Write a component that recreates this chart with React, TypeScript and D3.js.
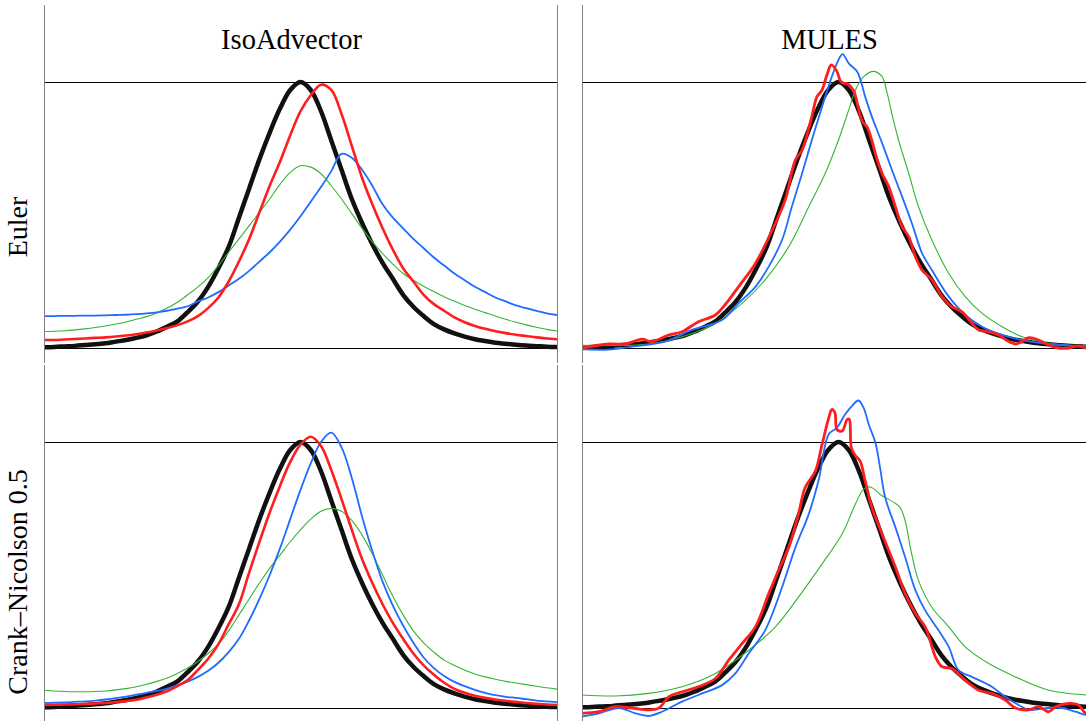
import React, { useEffect } from 'react';
import * as d3 from 'd3';

// ---------- labels ----------
const COLUMN_TITLES = ['IsoAdvector', 'MULES'];
const ROW_TITLES = ['Euler', 'Crank–Nicolson 0.5'];

// ---------- shared sample positions (fraction of the domain) ----------
const GRID = d3.range(51).map((i) => i * 0.02);

// exact solution (black), sampled on GRID
const BLACK = [0.003, 0.004, 0.006, 0.008, 0.011, 0.014, 0.018, 0.024, 0.03, 0.038, 0.048, 0.062, 0.08, 0.1, 0.135, 0.175, 0.23, 0.3, 0.38, 0.49, 0.6, 0.71, 0.81, 0.9, 0.97, 1.0, 0.97, 0.89, 0.78, 0.67, 0.56, 0.47, 0.39, 0.32, 0.26, 0.2, 0.155, 0.12, 0.09, 0.07, 0.055, 0.043, 0.033, 0.026, 0.02, 0.016, 0.012, 0.009, 0.007, 0.005, 0.004];

// IsoAdvector / Euler (on GRID)
const ISO_EU_RED = [0.03, 0.03, 0.032, 0.034, 0.036, 0.038, 0.04, 0.043, 0.047, 0.052, 0.058, 0.066, 0.075, 0.086, 0.1, 0.12, 0.15, 0.19, 0.25, 0.325, 0.41, 0.51, 0.61, 0.7, 0.8, 0.89, 0.95, 0.99, 0.97, 0.88, 0.76, 0.64, 0.54, 0.45, 0.37, 0.3, 0.25, 0.2, 0.165, 0.14, 0.115, 0.097, 0.083, 0.072, 0.063, 0.056, 0.05, 0.045, 0.04, 0.036, 0.033];
const ISO_EU_BLUE = [0.12, 0.12, 0.121, 0.121, 0.122, 0.122, 0.123, 0.124, 0.125, 0.127, 0.13, 0.134, 0.14, 0.148, 0.157, 0.175, 0.19, 0.21, 0.235, 0.26, 0.29, 0.325, 0.36, 0.4, 0.445, 0.495, 0.55, 0.605, 0.665, 0.73, 0.715, 0.67, 0.61, 0.54, 0.49, 0.45, 0.41, 0.375, 0.34, 0.31, 0.28, 0.255, 0.23, 0.21, 0.19, 0.175, 0.16, 0.15, 0.14, 0.13, 0.124];
const ISO_EU_GREEN = [0.062, 0.063, 0.065, 0.068, 0.072, 0.077, 0.083, 0.09, 0.098, 0.108, 0.118, 0.132, 0.15, 0.172, 0.2, 0.23, 0.265, 0.31, 0.36, 0.41, 0.46, 0.51, 0.56, 0.615, 0.66, 0.685, 0.68, 0.655, 0.61, 0.56, 0.505, 0.45, 0.4, 0.355, 0.315, 0.28, 0.255, 0.232, 0.212, 0.193, 0.176, 0.16, 0.146, 0.133, 0.12, 0.108, 0.097, 0.087, 0.078, 0.07, 0.064];

// IsoAdvector / Crank–Nicolson (on GRID)
const ISO_CN_RED = [0.012, 0.012, 0.013, 0.014, 0.015, 0.017, 0.019, 0.022, 0.026, 0.031, 0.04, 0.05, 0.063, 0.082, 0.105, 0.143, 0.185, 0.24, 0.315, 0.39, 0.51, 0.625, 0.735, 0.835, 0.925, 0.99, 1.02, 0.985, 0.895, 0.785, 0.67, 0.56, 0.47, 0.39, 0.32, 0.26, 0.205, 0.16, 0.125, 0.095, 0.072, 0.057, 0.046, 0.038, 0.032, 0.027, 0.023, 0.019, 0.016, 0.013, 0.011];
const ISO_CN_BLUE = [0.019, 0.02, 0.021, 0.023, 0.025, 0.028, 0.032, 0.037, 0.043, 0.05, 0.057, 0.064, 0.073, 0.085, 0.099, 0.117, 0.14, 0.17, 0.21, 0.26, 0.33, 0.41, 0.5, 0.6, 0.71, 0.82, 0.92, 1.0, 1.035, 0.98, 0.865, 0.72, 0.59, 0.475, 0.385, 0.31, 0.245, 0.19, 0.15, 0.12, 0.098, 0.082, 0.068, 0.057, 0.048, 0.042, 0.038, 0.033, 0.028, 0.025, 0.022];
const ISO_CN_GREEN = [0.067, 0.064, 0.062, 0.061, 0.061, 0.062, 0.064, 0.068, 0.073, 0.08, 0.089, 0.1, 0.113, 0.13, 0.15, 0.175, 0.205, 0.24, 0.29, 0.35, 0.41, 0.47, 0.525, 0.575, 0.625, 0.67, 0.71, 0.74, 0.75, 0.74, 0.705, 0.65, 0.58, 0.5, 0.42, 0.35, 0.29, 0.245, 0.21, 0.18, 0.16, 0.142, 0.128, 0.117, 0.108, 0.1, 0.094, 0.088, 0.082, 0.076, 0.071];

// MULES / Euler (own sample positions)
const MU_EU_RED_X = [0, 0.052, 0.084, 0.117, 0.136, 0.169, 0.195, 0.227, 0.26, 0.286, 0.305, 0.338, 0.37, 0.396, 0.416, 0.429, 0.448, 0.458, 0.468, 0.478, 0.486, 0.497, 0.505, 0.52, 0.53, 0.539, 0.547, 0.556, 0.565, 0.575, 0.585, 0.598, 0.611, 0.624, 0.637, 0.65, 0.663, 0.682, 0.702, 0.721, 0.741, 0.76, 0.773, 0.789, 0.812, 0.832, 0.845, 0.858, 0.871, 0.89, 0.91, 0.929, 0.949, 0.968, 0.982, 1.0];
const MU_EU_RED_Y = [0, 0.015, 0.015, 0.033, 0.024, 0.049, 0.061, 0.099, 0.124, 0.18, 0.23, 0.318, 0.44, 0.556, 0.707, 0.744, 0.87, 0.945, 0.97, 1.03, 1.064, 1.04, 1.0, 0.99, 0.965, 0.9, 0.85, 0.83, 0.78, 0.71, 0.656, 0.606, 0.53, 0.456, 0.418, 0.343, 0.293, 0.256, 0.193, 0.155, 0.136, 0.093, 0.068, 0.062, 0.049, 0.024, 0.015, 0.024, 0.039, 0.03, 0.011, 0, 0, 0.008, 0, 0];
const MU_EU_BLUE_X = [0, 0.052, 0.097, 0.162, 0.214, 0.273, 0.305, 0.338, 0.364, 0.39, 0.409, 0.429, 0.448, 0.468, 0.487, 0.5, 0.508, 0.52, 0.536, 0.543, 0.552, 0.565, 0.585, 0.604, 0.624, 0.643, 0.663, 0.682, 0.715, 0.747, 0.78, 0.819, 0.858, 0.91, 0.955, 0.982, 1.0];
const MU_EU_BLUE_Y = [-0.005, -0.006, 0.005, 0.024, 0.068, 0.105, 0.168, 0.23, 0.306, 0.406, 0.531, 0.656, 0.782, 0.907, 1.02, 1.083, 1.105, 1.07, 1.04, 1.007, 0.945, 0.87, 0.77, 0.67, 0.569, 0.469, 0.356, 0.293, 0.193, 0.124, 0.08, 0.049, 0.03, 0.015, 0.008, 0.003, 0.002];
const MU_EU_GREEN_X = [0, 0.13, 0.195, 0.26, 0.312, 0.357, 0.403, 0.442, 0.474, 0.5, 0.52, 0.533, 0.549, 0.569, 0.585, 0.595, 0.604, 0.617, 0.637, 0.656, 0.682, 0.715, 0.747, 0.78, 0.819, 0.858, 0.91, 0.982, 1.0];
const MU_EU_GREEN_Y = [0.01, 0.015, 0.042, 0.093, 0.168, 0.256, 0.381, 0.531, 0.656, 0.782, 0.895, 0.97, 1.02, 1.04, 1.02, 0.957, 0.88, 0.782, 0.656, 0.531, 0.406, 0.28, 0.193, 0.13, 0.08, 0.042, 0.018, 0.008, 0.007];

// MULES / Crank–Nicolson (own sample positions)
const MU_CN_RED_X = [0, 0.033, 0.065, 0.097, 0.13, 0.15, 0.169, 0.195, 0.227, 0.26, 0.286, 0.312, 0.338, 0.364, 0.383, 0.403, 0.422, 0.435, 0.455, 0.468, 0.481, 0.487, 0.493, 0.497, 0.507, 0.517, 0.521, 0.525, 0.533, 0.542, 0.552, 0.565, 0.585, 0.611, 0.63, 0.65, 0.669, 0.689, 0.702, 0.721, 0.747, 0.773, 0.799, 0.825, 0.845, 0.871, 0.89, 0.91, 0.923, 0.949, 0.968, 0.982, 1.0];
const MU_CN_RED_Y = [-0.02, -0.014, 0.005, 0, -0.007, 0, 0.042, 0.061, 0.08, 0.111, 0.18, 0.242, 0.305, 0.43, 0.517, 0.604, 0.729, 0.829, 0.891, 0.991, 1.091, 1.122, 1.11, 1.047, 1.041, 1.085, 1.085, 0.979, 0.948, 0.929, 0.854, 0.754, 0.654, 0.529, 0.43, 0.355, 0.305, 0.192, 0.155, 0.148, 0.105, 0.067, 0.055, 0.03, 0, -0.007, 0.005, -0.014, 0.005, 0.017, 0.011, -0.02, -0.02];
const MU_CN_BLUE_X = [0, 0.033, 0.072, 0.104, 0.13, 0.156, 0.195, 0.227, 0.273, 0.299, 0.325, 0.357, 0.39, 0.416, 0.442, 0.461, 0.481, 0.497, 0.513, 0.526, 0.539, 0.549, 0.559, 0.572, 0.581, 0.591, 0.611, 0.63, 0.65, 0.669, 0.695, 0.715, 0.734, 0.76, 0.799, 0.825, 0.851, 0.871, 0.91, 0.936, 0.962, 0.982, 1.0];
const MU_CN_BLUE_Y = [-0.032, -0.02, 0, -0.02, -0.03, -0.014, 0.024, 0.049, 0.086, 0.13, 0.205, 0.292, 0.454, 0.604, 0.729, 0.854, 1.029, 1.054, 1.104, 1.135, 1.156, 1.128, 1.066, 0.997, 0.904, 0.791, 0.679, 0.567, 0.442, 0.367, 0.292, 0.23, 0.142, 0.117, 0.08, 0.042, 0.011, -0.007, 0, 0, -0.014, -0.026, -0.03];
const MU_CN_GREEN_X = [0, 0.065, 0.13, 0.195, 0.26, 0.325, 0.377, 0.422, 0.468, 0.507, 0.533, 0.549, 0.562, 0.585, 0.608, 0.62, 0.63, 0.64, 0.656, 0.682, 0.715, 0.747, 0.793, 0.845, 0.91, 0.982, 1.0];
const MU_CN_GREEN_Y = [0.049, 0.045, 0.055, 0.08, 0.13, 0.217, 0.305, 0.417, 0.542, 0.654, 0.767, 0.823, 0.831, 0.798, 0.773, 0.754, 0.704, 0.604, 0.479, 0.379, 0.305, 0.23, 0.167, 0.117, 0.067, 0.049, 0.047];

// ---------- styling / layout ----------
const COLORS = { black: '#111111', red: '#ff1d1d', blue: '#1f6cff', green: '#33b533' };
const PANEL_W = 513;
const COL_X = [44, 582];
const ROWS = [
  { one: 82, zero: 348, top: 5, bottom: 363, labelY: 227 },
  { one: 442, zero: 708, top: 365, bottom: 723, labelY: 582 },
];

type Series = { xs: number[]; ys: number[]; color: string; width: number };

const zip = (xs: number[], ys: number[]) => xs.map((x, i) => [x, ys[i]] as [number, number]);

const PANELS: Series[][][] = [
  [
    [
      { xs: GRID, ys: BLACK, color: COLORS.black, width: 4.5 },
      { xs: GRID, ys: ISO_EU_GREEN, color: COLORS.green, width: 1.1 },
      { xs: GRID, ys: ISO_EU_BLUE, color: COLORS.blue, width: 1.8 },
      { xs: GRID, ys: ISO_EU_RED, color: COLORS.red, width: 2.6 },
    ],
    [
      { xs: GRID, ys: BLACK, color: COLORS.black, width: 4.5 },
      { xs: MU_EU_GREEN_X, ys: MU_EU_GREEN_Y, color: COLORS.green, width: 1.1 },
      { xs: MU_EU_BLUE_X, ys: MU_EU_BLUE_Y, color: COLORS.blue, width: 1.8 },
      { xs: MU_EU_RED_X, ys: MU_EU_RED_Y, color: COLORS.red, width: 2.8 },
    ],
  ],
  [
    [
      { xs: GRID, ys: BLACK, color: COLORS.black, width: 4.5 },
      { xs: GRID, ys: ISO_CN_GREEN, color: COLORS.green, width: 1.1 },
      { xs: GRID, ys: ISO_CN_BLUE, color: COLORS.blue, width: 1.8 },
      { xs: GRID, ys: ISO_CN_RED, color: COLORS.red, width: 2.6 },
    ],
    [
      { xs: GRID, ys: BLACK, color: COLORS.black, width: 4.5 },
      { xs: MU_CN_GREEN_X, ys: MU_CN_GREEN_Y, color: COLORS.green, width: 1.1 },
      { xs: MU_CN_BLUE_X, ys: MU_CN_BLUE_Y, color: COLORS.blue, width: 1.8 },
      { xs: MU_CN_RED_X, ys: MU_CN_RED_Y, color: COLORS.red, width: 2.8 },
    ],
  ],
];

const FONT = '"Liberation Serif", "DejaVu Serif", serif';

export default function App() {
  useEffect(() => {
    document.body.style.margin = '0';
  }, []);

  return (
    <svg
      width={1086}
      height={721}
      viewBox="0 0 1086 721"
      style={{ position: 'absolute', left: 0, top: 0, background: '#fff' }}
    >
      <defs>
        {ROWS.map((r, ri) =>
          COL_X.map((x0, ci) => (
            <clipPath id={`clip-${ri}-${ci}`} key={`c${ri}${ci}`}>
              <rect x={x0} y={r.top} width={PANEL_W} height={r.bottom - r.top} />
            </clipPath>
          ))
        )}
      </defs>
      <rect x={0} y={0} width={1086} height={721} fill="#fff" />
      {ROWS.map((r, ri) =>
        COL_X.map((x0, ci) => {
          const x = d3.scaleLinear().domain([0, 1]).range([x0, x0 + PANEL_W]);
          const y = d3.scaleLinear().domain([0, 1]).range([r.zero, r.one]);
          const line = d3
            .line<[number, number]>()
            .x((d) => x(d[0]))
            .y((d) => y(d[1]))
            .curve(d3.curveCatmullRom.alpha(0.5));
          return (
            <g key={`p${ri}${ci}`}>
              {/* reference lines at 0 and 1 */}
              <line x1={x(0)} x2={x(1)} y1={y(1) + 0.5} y2={y(1) + 0.5} stroke="#000" strokeWidth={1} shapeRendering="crispEdges" />
              <line x1={x(0)} x2={x(1)} y1={y(0) + 0.5} y2={y(0) + 0.5} stroke="#000" strokeWidth={1} shapeRendering="crispEdges" />
              <g clipPath={`url(#clip-${ri}-${ci})`}>
                {PANELS[ri][ci].map((s, si) => (
                  <path
                    key={si}
                    d={line(zip(s.xs, s.ys)) || ''}
                    fill="none"
                    stroke={s.color}
                    strokeWidth={s.width}
                    strokeLinejoin="round"
                    strokeLinecap="round"
                  />
                ))}
              </g>
              {/* panel side borders */}
              <line x1={x(0) + 0.5} x2={x(0) + 0.5} y1={r.top} y2={r.bottom} stroke="#808080" strokeWidth={1} shapeRendering="crispEdges" />
              <line x1={x(1) + 0.5} x2={x(1) + 0.5} y1={r.top} y2={r.bottom} stroke="#808080" strokeWidth={1} shapeRendering="crispEdges" />
            </g>
          );
        })
      )}
      {COLUMN_TITLES.map((t, ci) => (
        <text
          key={t}
          x={COL_X[ci] + PANEL_W / 2 - 9}
          y={49}
          textAnchor="middle"
          fontFamily={FONT}
          fontSize={28.5}
          fill="#000"
        >
          {t}
        </text>
      ))}
      {ROW_TITLES.map((t, ri) => (
        <text
          key={t}
          transform={`translate(27, ${ROWS[ri].labelY}) rotate(-90)`}
          textAnchor="middle"
          fontFamily={FONT}
          fontSize={28}
          fill="#000"
        >
          {t}
        </text>
      ))}
    </svg>
  );
}
